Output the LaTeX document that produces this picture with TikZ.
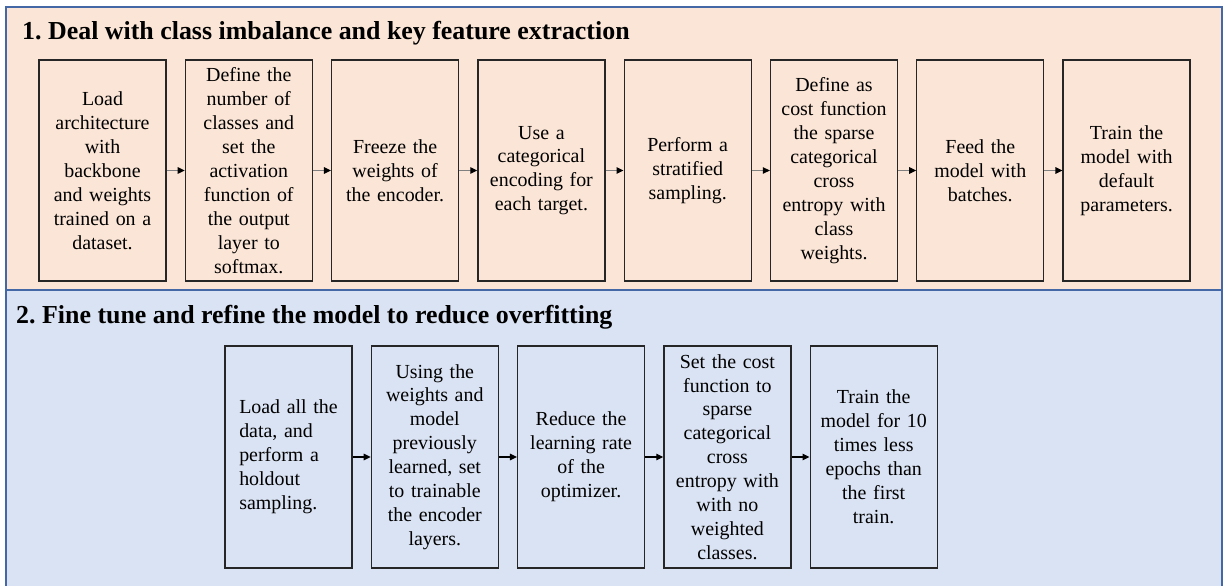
\documentclass[tikz,border=0pt]{standalone}
\usepackage{fontspec}
\setmainfont{Liberation Serif}
\usetikzlibrary{calc}
\usetikzlibrary{arrows.meta}
\def\boxedge{1.3}
\def\paneledge{1.8}
\def\stepx{146.3}
\definecolor{panelpeach}{RGB}{251,229,214}
\definecolor{panelblue}{RGB}{218,227,243}
\definecolor{paneledge}{RGB}{68,103,165}
\definecolor{boxblack}{RGB}{38,38,38}
\definecolor{arrowgrey}{RGB}{128,128,128}
\tikzset{
  stepbox/.style={draw=boxblack, line width=\boxedge, minimum width=127bp, minimum height=221bp,
    text width=120bp, align=center, inner sep=0pt, font=\fontsize{20}{24}\selectfont},
  paneltitle/.style={anchor=base west, inner sep=0pt, font=\fontsize{26}{30}\selectfont\bfseries},
  greyflow/.style={draw=arrowgrey, line width=1.2, -{Triangle[length=7bp,width=6.5bp,color=black]}},
  blackflow/.style={draw=black, line width=1.2, -{Triangle[length=7bp,width=6.5bp]}}
}
\frenchspacing
\begin{document}
\begin{tikzpicture}[x=1bp, y=-1bp]
    \useasboundingbox (0,0) rectangle (1225,586);

    % the two panels
    \draw [line width=\paneledge, draw=paneledge, fill=panelpeach] (6,7) rectangle (1222,290);
    \draw [line width=\paneledge, draw=paneledge, fill=panelblue] (6,290) rectangle (1222,592);

    \node [paneltitle] (title1) at (22,40) {1. Deal with class imbalance and key feature extraction};
    \node [paneltitle] (title2) at (16,324) {2. Fine tune and refine the model to reduce overfitting};

    % first row
        \node [stepbox] (t1) at (102.5,170.5) {Load\\ architecture\\ with\\ backbone\\ and weights\\ trained on a\\ dataset.};
        \node [stepbox] (t2) at ($(t1) + (\stepx,0)$) {Define the\\ number of\\ classes and\\ set the\\ activation\\ function of\\ the output\\ layer to\\ softmax.};
        \node [stepbox] (t3) at ($(t2) + (\stepx,0)$) {Freeze the\\ weights of\\ the encoder.};
        \node [stepbox] (t4) at ($(t3) + (\stepx,0)$) {Use a\\ categorical\\ encoding for\\ each target.};
        \node [stepbox] (t5) at ($(t4) + (\stepx,0)$) {Perform a\\ stratified\\ sampling.};
        \node [stepbox] (t6) at ($(t5) + (\stepx,0)$) {Define as\\ cost function\\ the sparse\\ categorical\\ cross\\ entropy with\\ class\\ weights.};
        \node [stepbox] (t7) at ($(t6) + (\stepx,0)$) {Feed the\\ model with\\ batches.};
        \node [stepbox] (t8) at ($(t7) + (\stepx,0)$) {Train the\\ model with\\ default\\ parameters.};

    \foreach \a/\b in {t1/t2,t2/t3,t3/t4,t4/t5,t5/t6,t6/t7,t7/t8}
        \draw [greyflow] (\a) -- (\b);

    % second row
        \node [stepbox, minimum height=222bp] (b1) at (288.5,457) {\begin{tabular}{@{}l@{}}Load all the\\ data, and\\ perform a\\ holdout\\ sampling.\end{tabular}};
        \node [stepbox, minimum height=222bp] (b2) at ($(b1) + (\stepx,0)$) {Using the\\ weights and\\ model\\ previously\\ learned, set\\ to trainable\\ the encoder\\ layers.};
        \node [stepbox, minimum height=222bp] (b3) at ($(b2) + (\stepx,0)$) {Reduce the\\ learning rate\\ of the\\ optimizer.};
        \node [stepbox, minimum height=222bp] (b4) at ($(b3) + (\stepx,0)$) {Set the cost\\ function to\\ sparse\\ categorical\\ cross\\ entropy with\\ with no\\ weighted\\ classes.};
        \node [stepbox, minimum height=222bp] (b5) at ($(b4) + (\stepx,0)$) {Train the\\ model for 10\\ times less\\ epochs than\\ the first\\ train.};

    \foreach \a/\b in {b1/b2,b2/b3,b3/b4,b4/b5}
        \draw [blackflow] (\a) -- (\b);

\end{tikzpicture}
\end{document}
